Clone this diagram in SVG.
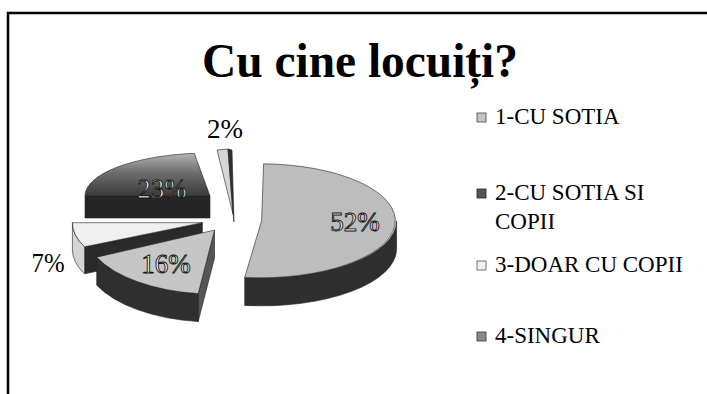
<svg xmlns="http://www.w3.org/2000/svg" width="707" height="394" viewBox="0 0 707 394">
<defs>
<style>
.frame{stroke:#000;stroke-width:2.5;fill:none}
.title{font-family:"Liberation Serif",serif;font-weight:bold;font-size:48px;fill:#000}
.leg{font-family:"Liberation Serif",serif;font-size:23px;fill:#000}
.lbl{font-family:"Liberation Serif",serif;font-size:27px;fill:#000;text-anchor:middle}
.lbl-in{font-family:"Liberation Serif",serif;font-size:27px;fill:#f2f2f2;stroke:#111;stroke-width:0.9;text-anchor:middle}
.edge{stroke:#222;stroke-width:0.6;stroke-linejoin:round}
</style>
<linearGradient id="g23" x1="0" y1="0" x2="0" y2="1">
<stop offset="0" stop-color="#b4b4b4"/>
<stop offset="0.45" stop-color="#6e6e6e"/>
<stop offset="1" stop-color="#3a3a3a"/>
</linearGradient>
</defs>
<rect width="707" height="394" fill="#fff"/>
<path class="frame" d="M8,394 L8,13 L707,13"/>

<g id="title">
<text class="title" x="360" y="77" text-anchor="middle" textLength="316" lengthAdjust="spacingAndGlyphs">Cu cine locuiți?</text>
</g>

<g id="pie">
<g id="slice-23">
<path class="edge" fill="#262626" d="M210,196 L85,196 L85,218 L210,218 Z"/>
<path class="edge" fill="url(#g23)" d="M210,196 L85,196 A125,43 0 0 1 194.3,153.3 Z"/>
</g>
<g id="slice-2">
<path class="edge" fill="#d6d6d6" d="M217,150 L228,149 L233,214 Z"/>
<path class="edge" fill="#303030" d="M228,149 L232,150 L234,222 L233,214 Z"/>
</g>
<g id="slice-7">
<path class="edge" fill="#2a2a2a" d="M202.4,222.7 L84.6,246.8 L84.6,273.8 L202.4,249.7 Z"/>
<path class="edge" fill="#d4d4d4" d="M84.6,246.8 A130,57 0 0 1 72.4,222.7 L72.4,249.7 A130,57 0 0 0 84.6,273.8 Z"/>
<path class="edge" fill="#efefef" d="M202.4,222.7 L84.6,246.8 A130,57 0 0 1 72.4,222.7 Z"/>
</g>
<g id="slice-16">
<path class="edge" fill="#555" d="M214.5,230.1 L198.2,293.6 L198.2,321.6 L214.5,258.1 Z"/>
<path class="edge" fill="#2f2f2f" d="M198.2,293.6 A130,64 0 0 1 96.7,257.2 L96.7,285.2 A130,64 0 0 0 198.2,321.6 Z"/>
<path class="edge" fill="#c6c6c6" d="M214.5,230.1 L198.2,293.6 A130,64 0 0 1 96.7,257.2 Z"/>
</g>
<g id="slice-52">
<path class="edge" fill="#2e2e2e" d="M396.6,220.8 A135,57 0 0 1 244.7,277.4 L244.7,305.4 A135,57 0 0 0 396.6,248.8 Z"/>
<path class="edge" fill="#bdbdbd" d="M261.6,220.8 L263.6,163.8 A135,57 0 1 1 244.7,277.4 Z"/>
</g>
</g>

<g id="labels">
<text class="lbl" x="225" y="138">2%</text>
<text class="lbl-in" x="162" y="198">23%</text>
<text class="lbl-in" x="355" y="231">52%</text>
<text class="lbl-in" x="166" y="273">16%</text>
<text class="lbl" x="48" y="272" textLength="33" lengthAdjust="spacingAndGlyphs">7%</text>
</g>

<g id="legend">
<g id="leg-1">
<rect x="477" y="113" width="9" height="9" fill="#c4c4c4" stroke="#444" stroke-width="0.8"/>
<text class="leg" x="495" y="124">1-CU SOTIA</text>
</g>
<g id="leg-2">
<rect x="477" y="189" width="9" height="9" fill="#555" stroke="#222" stroke-width="0.8"/>
<text class="leg" x="495" y="200">2-CU SOTIA SI</text>
<text class="leg" x="495" y="229">COPII</text>
</g>
<g id="leg-3">
<rect x="477" y="261" width="9" height="9" fill="#f0f0f0" stroke="#555" stroke-width="0.8"/>
<text class="leg" x="495" y="272">3-DOAR CU COPII</text>
</g>
<g id="leg-4">
<rect x="477" y="332" width="9" height="9" fill="#8a8a8a" stroke="#333" stroke-width="0.8"/>
<text class="leg" x="495" y="343">4-SINGUR</text>
</g>
</g>
</svg>
